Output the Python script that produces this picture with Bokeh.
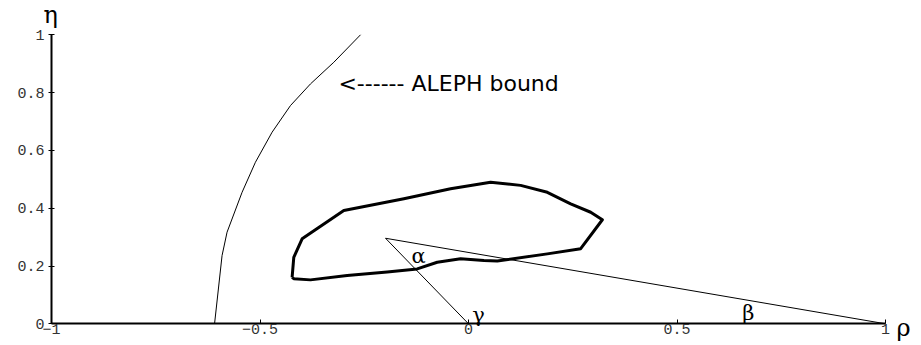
from bokeh.plotting import figure
from bokeh.models import Range1d, LinearAxis, FixedTicker, Label, ColumnDataSource
from bokeh.core.properties import value
from bokeh.embed import file_html
from bokeh.resources import INLINE

# ---- data ----
x_ticks = [-1, -0.5, 0, 0.5, 1]
x_tick_labels = ["\u22121", "\u22120.5", "0", "0.5", "1"]
y_ticks = [0, 0.2, 0.4, 0.6, 0.8, 1]
y_tick_labels = ["0", "0.2", "0.4", "0.6", "0.8", "1"]

# ALEPH bound curve
aleph_rho = [-0.609, -0.591, -0.579, -0.543, -0.511, -0.471, -0.427, -0.379, -0.323, -0.259]
aleph_eta = [0.0, 0.236, 0.317, 0.455, 0.559, 0.663, 0.755, 0.830, 0.905, 1.0]

# closed contour
contour_rho = [-0.423, -0.419, -0.399, -0.299, -0.155, -0.043, 0.053, 0.125, 0.189, 0.245,
               0.293, 0.321, 0.269, 0.189, 0.069, 0.037, -0.019, -0.075, -0.123, -0.195,
               -0.291, -0.379, -0.419, -0.423]
contour_eta = [0.161, 0.230, 0.294, 0.392, 0.433, 0.467, 0.490, 0.479, 0.455, 0.415,
               0.386, 0.360, 0.260, 0.242, 0.217, 0.219, 0.225, 0.213, 0.190, 0.179,
               0.167, 0.152, 0.156, 0.161]

# unitarity triangle: (0,0) -> apex -> (1,0)
tri_rho = [0.0, -0.199, 1.0]
tri_eta = [0.0, 0.296, 0.0]

# angle labels
greek_text = ["\u03b1", "\u03b3", "\u03b2"]
greek_rho = [-0.120, 0.024, 0.671]
greek_eta = [0.236, 0.029, 0.039]

p = figure(width=918, height=342, x_range=Range1d(-1.1223, 1.0791), y_range=Range1d(-0.0647, 1.1187),
           output_backend="svg", toolbar_location=None,
           x_axis_location=None, y_axis_location=None,
           min_border_left=0, min_border_right=0, min_border_top=0, min_border_bottom=0)
p.outline_line_color = None
p.xgrid.grid_line_color = None
p.ygrid.grid_line_color = None
p.background_fill_color = "white"

mono = "Liberation Mono"
xaxis = LinearAxis(ticker=FixedTicker(ticks=x_ticks), bounds=(-1, 1), fixed_location=0,
                   major_label_overrides={t: s for t, s in zip(x_ticks, x_tick_labels)},
                   axis_line_width=2, axis_line_color="black",
                   major_tick_in=4, major_tick_out=0, major_tick_line_color="black",
                   minor_tick_line_color=None, major_label_standoff=0,
                   major_label_text_font=mono, major_label_text_font_size="15px",
                   major_label_text_color="#333")
p.add_layout(xaxis, "below")

yaxis = LinearAxis(ticker=FixedTicker(ticks=y_ticks), bounds=(0, 1), fixed_location=-1,
                   major_label_overrides={t: s for t, s in zip(y_ticks, y_tick_labels)},
                   axis_line_width=2, axis_line_color="black",
                   major_tick_in=3, major_tick_out=3, major_tick_line_color="black",
                   minor_tick_line_color=None, major_label_standoff=4,
                   major_label_text_font=mono, major_label_text_font_size="15px",
                   major_label_text_color="#333")
p.add_layout(yaxis, "left")

p.line(aleph_rho, aleph_eta, line_color="black", line_width=1)
p.line(contour_rho, contour_eta, line_color="black", line_width=3, line_join="round")
p.line(tri_rho, tri_eta, line_color="black", line_width=1)

src = ColumnDataSource(dict(x=greek_rho, y=greek_eta, t=greek_text))
p.text("x", "y", text="t", source=src, text_font=value("DejaVu Serif"),
       text_font_size="21px", text_align="center", text_baseline="middle", text_color="black")

p.add_layout(Label(x=-0.312, y=0.831, text="<------ ALEPH bound", text_font="DejaVu Sans",
                   text_font_size="22px", text_align="left", text_baseline="alphabetic",
                   text_color="black"))
p.add_layout(Label(x=1.043, y=-0.013, text="\u03c1", text_font="DejaVu Serif",
                   text_font_size="24px", text_align="center", text_baseline="middle",
                   text_color="black"))
p.add_layout(Label(x=-1.002, y=1.067, text="\u03b7", text_font="DejaVu Serif",
                   text_font_size="24px", text_align="center", text_baseline="middle",
                   text_color="black"))

open("out.html", "w").write(file_html(p, INLINE))
